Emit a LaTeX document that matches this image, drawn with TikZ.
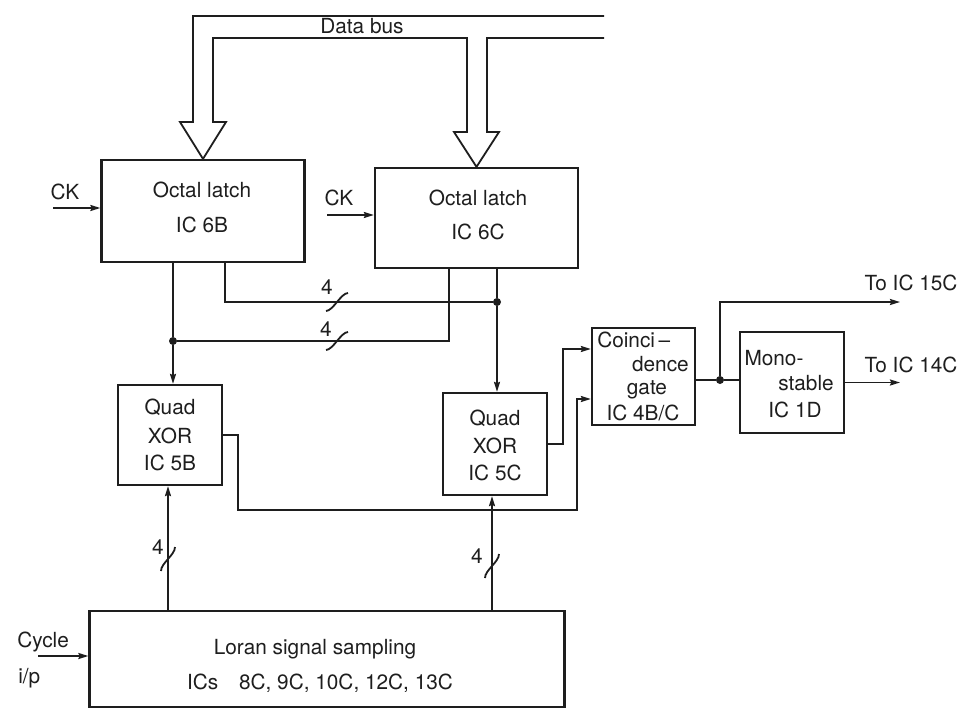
\documentclass[tikz,border=0pt]{standalone}
\usepackage{fontspec}
\setmainfont{TeX Gyre Heros}
\usetikzlibrary{arrows.meta,calc}
\definecolor{ink}{RGB}{30,30,30}
\begin{document}
\begin{tikzpicture}[x=0.75pt,y=-0.75pt,
  wire/.style={line width=1.35pt, draw=ink},
  box/.style={draw=ink, line width=1.7pt, rectangle, inner sep=0pt},
  arr/.style={wire, -{Stealth[length=7.5pt,width=4.5pt,inset=1pt]}},
  lbl/.style={font=\fontsize{15.6}{18}\selectfont, text=ink, inner sep=0pt, text height=11pt, text depth=0pt},
  dotn/.style={circle, fill=ink, inner sep=0pt, minimum size=6pt},
  hslash/.pic={\draw[wire] (-11,9) .. controls (-4,9) and (4,-9) .. (11,-9);},
  vslash/.pic={\draw[wire] (-7,12) .. controls (-7,4) and (7,-4) .. (7,-12);}
]
\useasboundingbox (0,0) rectangle (961,718);
\fill[white] (0,0) rectangle (961,718);

% boxes
\node[box, minimum width=152.25pt, minimum height=76.5pt] (L6B) at (203,211) {};
\node[box, minimum width=152.25pt, minimum height=75pt] (L6C) at (476.5,218) {};
\node[box, minimum width=78pt, minimum height=75pt] (X5B) at (170,435) {};
\node[box, minimum width=78pt, minimum height=76.5pt] (X5C) at (495,444) {};
\node[box, minimum width=77.25pt, minimum height=72.75pt] (CG) at (643.5,376.5) {};
\node[box, minimum width=78pt, minimum height=75.75pt] (MS) at (792,382.5) {};
\node[box, minimum width=356.25pt, minimum height=72pt] (LS) at (327,659) {};

% texts
\node[lbl] (t6Ba) at (202,190) {Octal latch};
\node[lbl] (t6Bb) at (202,225) {IC 6B};
\node[lbl] (t6Ca) at (478,198) {Octal latch};
\node[lbl] (t6Cb) at (478,232) {IC 6C};
\node[lbl] (ck1t) at (65,192) {CK};
\node[lbl] (ck2t) at (339,198) {CK};
\node[lbl] (dbt) at (362,26) {Data bus};
\node[lbl] (n4a) at (327,287) {4};
\node[lbl] (n4b) at (326,329) {4};
\node[lbl] (n4c) at (158,547) {4};
\node[lbl] (n4d) at (477,556) {4};
\node[lbl] (x5Ba) at (170,407) {Quad};
\node[lbl] (x5Bb) at (170,436) {XOR};
\node[lbl] (x5Bc) at (170,463) {IC 5B};
\node[lbl] (x5Ca) at (495,418) {Quad};
\node[lbl] (x5Cb) at (495,446) {XOR};
\node[lbl] (x5Cc) at (495,473) {IC 5C};
\node[lbl, anchor=west] (cga) at (597,340) {Coinci\,–};
\node[lbl, anchor=east] (cgb) at (689,364) {dence};
\node[lbl] (cgc) at (647,387) {gate};
\node[lbl] (cgd) at (643,413) {IC 4B/C};
\node[lbl] (msa) at (774,358) {Mono-};
\node[lbl] (msb) at (806,383) {stable};
\node[lbl] (msc) at (795,410) {IC 1D};
\node[lbl] (to15) at (911,283) {To IC 15C};
\node[lbl] (to14) at (911,365) {To IC 14C};
\node[lbl, anchor=west] (cyca) at (17,640) {Cycle};
\node[lbl, anchor=west] (cycb) at (18,676) {i/p};
\node[lbl] (lsa) at (315,647) {Loran signal sampling};
\node[lbl] (lsb) at (320,682) {ICs\quad 8C, 9C, 10C, 12C, 13C};

% data bus
\draw[wire, line join=miter] (604,16) -- (193,16) -- (193,122) -- (180,122) -- (L6B.north) -- (226,122) -- (213,122) -- (213,38) -- (467,38) -- (467,132) -- (454,132) -- (L6C.north) -- (499,132) -- (487,132) -- (487,38) -- (604,38);

% junction dots
\node[dotn] (dot1) at (173,341) {};
\node[dotn] (dot2) at (497,302) {};
\node[dotn] (dot3) at (720,380) {};

% clock inputs
\coordinate (ck1) at (53,208);
\coordinate (ck2) at (327,215);
\draw[arr] (ck1) -- (ck1 -| L6B.west);
\draw[arr] (ck2) -- (ck2 -| L6C.west);

% latch outputs
\draw[wire] (dot1 |- L6B.south) -- (dot1);
\draw[arr] (dot1) -- (dot1 |- X5B.north);
\draw[wire] ($(L6B.south)+(22,0)$) |- (dot2);
\draw[wire] ($(L6C.south)+(-27.5,0)$) |- (dot1);
\draw[wire] (dot2 |- L6C.south) -- (dot2);
\draw[arr] (dot2) -- (dot2 |- X5C.north);
\pic at (337,302) {hslash};
\pic at (337,341) {hslash};

% sampling to XORs
\coordinate (up1) at (168,600);
\coordinate (up2) at (492,600);
\draw[arr] (up1 |- LS.north) -- (up1 |- X5B.south);
\draw[arr] (up2 |- LS.north) -- (up2 |- X5C.south);
\pic at (168,559) {vslash};
\pic at (492,566) {vslash};

% XOR outputs to coincidence gate
\coordinate (c1) at (238,510);
\coordinate (cin2) at (577,399);
\coordinate (cin1) at (563,349);
\draw[arr] (X5B.east) -| (c1) -| (cin2) -- (cin2 -| CG.west);
\draw[arr] (X5C.east) -| (cin1) -- (cin1 -| CG.west);

% gate output
\coordinate (out1) at (900,302);
\coordinate (out2) at (900,382.5);
\draw[wire] (dot3 -| CG.east) -- (dot3) -- (dot3 -| MS.west);
\draw[arr] (dot3) |- (out1);
\draw[arr] (MS.east) -- (out2);

% cycle input
\coordinate (cyc) at (38,656);
\draw[arr] (cyc) -- (cyc -| LS.west);
\end{tikzpicture}
\end{document}
